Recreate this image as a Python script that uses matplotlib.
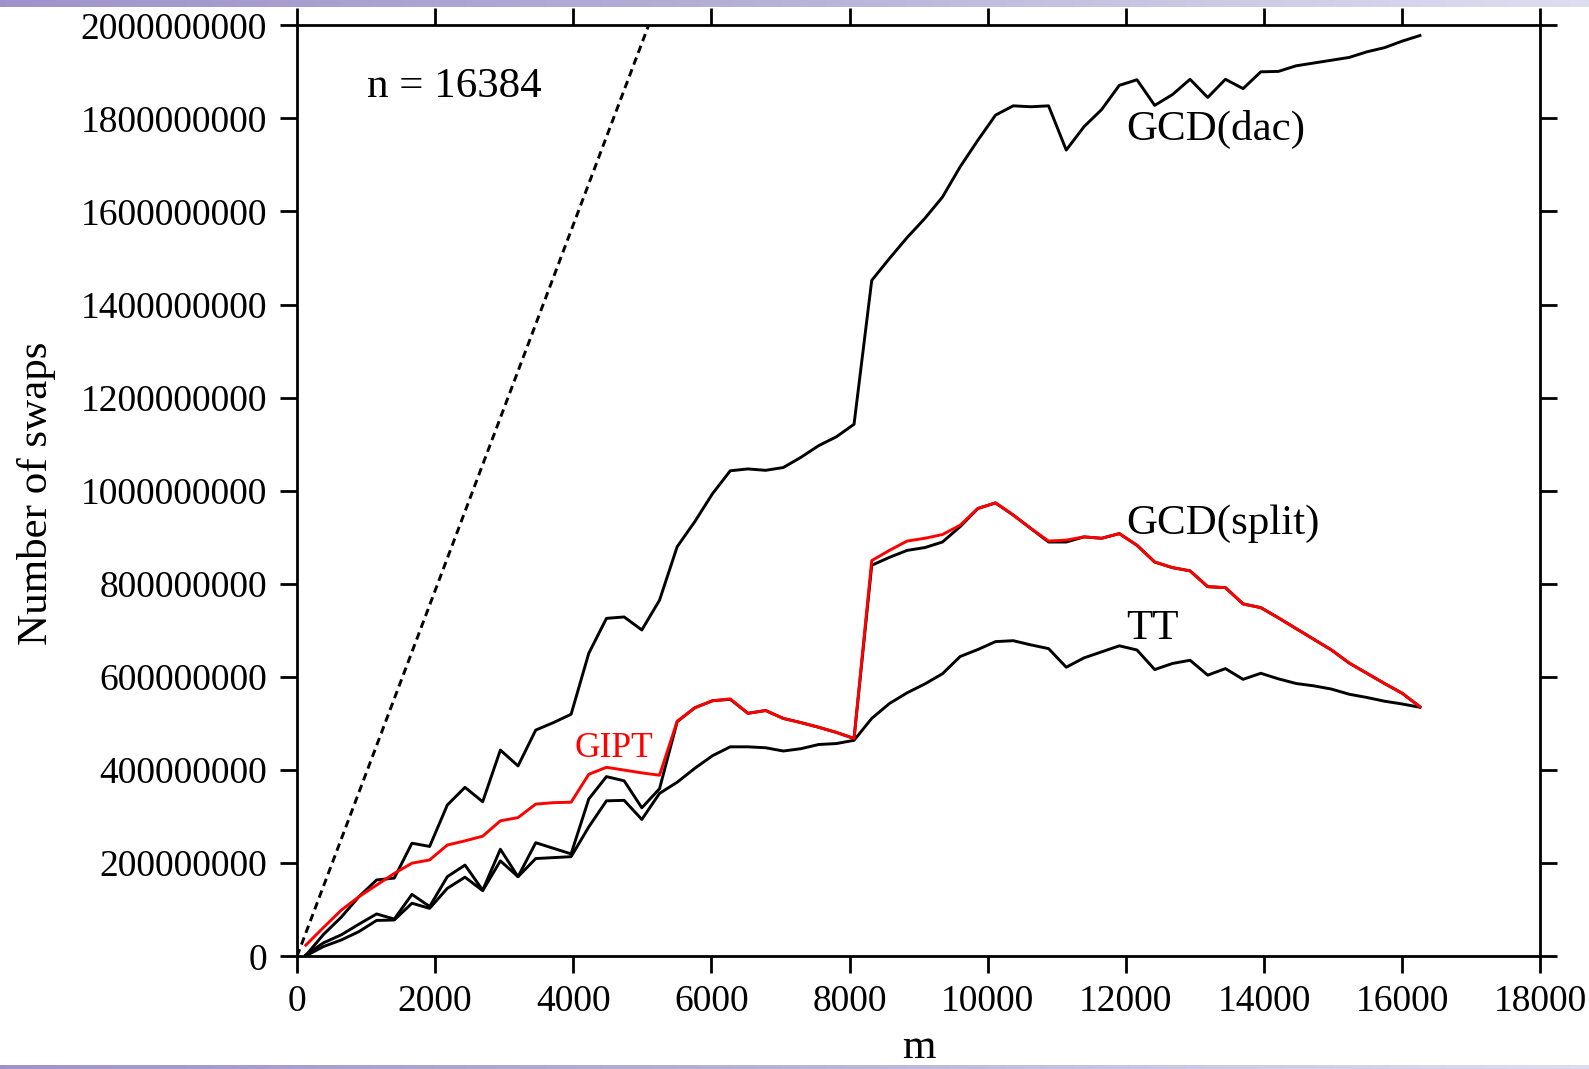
import numpy as np
import matplotlib
matplotlib.use("Agg")
import matplotlib.pyplot as plt
from matplotlib.colors import LinearSegmentedColormap

plt.rcParams['font.family'] = ['Liberation Serif', 'DejaVu Serif']

# ---------------- data ----------------
# problem sizes m (n = 16384)
m_values = [128 + 256 * k for k in range(64)]

# number of swaps, in millions
gcd_dac = [2, 47, 84, 128, 164, 168, 243, 236, 325, 363, 332, 443, 409, 486, 502, 520,
           651, 726, 729, 701, 765, 880, 934, 994, 1043, 1047, 1044, 1050, 1072, 1097, 1116, 1143,
           1452, 1499, 1544, 1585, 1631, 1696, 1753, 1807, 1827, 1825, 1827, 1732, 1782, 1819, 1871, 1883,
           1828, 1851, 1884, 1845, 1884, 1864, 1900, 1901, 1913, 1919, 1925, 1931, 1943, 1952, 1966, 1978]

gcd_split = [3, 29, 46, 69, 91, 80, 133, 107, 171, 196, 142, 230, 171, 244, 232, 220,
             338, 386, 377, 319, 360, 504, 534, 549, 552, 522, 528, 511, 502, 492, 481, 468,
             840, 857, 872, 878, 890, 923, 962, 974, 948, 919, 890, 890, 901, 898, 908, 883,
             847, 835, 828, 794, 792, 757, 749, 727, 704, 681, 658, 630, 608, 586, 565, 536]

tt = [1, 21, 35, 53, 77, 78, 114, 103, 146, 170, 141, 205, 171, 210, 212, 214,
      278, 334, 335, 294, 350, 374, 404, 431, 450, 450, 448, 441, 446, 455, 457, 464,
      511, 543, 566, 585, 607, 644, 659, 676, 678, 669, 661, 621, 641, 654, 667, 658,
      616, 629, 636, 604, 618, 595, 608, 596, 586, 581, 574, 563, 556, 548, 542, 535]

gipt = [24, 62, 99, 128, 153, 178, 200, 207, 239, 248, 258, 291, 298, 327, 330, 331,
        391, 406, 400, 394, 389, 505, 534, 549, 553, 522, 528, 511, 502, 492, 481, 468,
        850, 872, 892, 898, 906, 926, 962, 974, 948, 919, 892, 894, 901, 898, 908, 883,
        847, 835, 828, 794, 792, 757, 749, 727, 704, 681, 658, 630, 608, 586, 565, 536]

# reference (dashed) line end points
dashed_m = [0, 5090]
dashed_swaps = [0, 2000]

xticks = [0, 2000, 4000, 6000, 8000, 10000, 12000, 14000, 16000, 18000]
yticks = [0, 200, 400, 600, 800, 1000, 1200, 1400, 1600, 1800, 2000]
ytick_labels = ['0', '200000000', '400000000', '600000000', '800000000', '1000000000',
                '1200000000', '1400000000', '1600000000', '1800000000', '2000000000']

SCALE = 1e6

# ---------------- figure ----------------
W, H = 1589, 1069
fig = plt.figure(figsize=(W / 100, H / 100), dpi=100)
fig.patch.set_facecolor('white')

# decorative slide bands (top & bottom)
cmap = LinearSegmentedColormap.from_list('band', [(0.62, 0.58, 0.79), (0.72, 0.70, 0.85), (0.87, 0.87, 0.94)])
grad = np.linspace(0, 1, 256).reshape(1, -1)
for y0, h in [(1 - 7 / H, 7 / H), (0, 4 / H)]:
    bax = fig.add_axes([0, y0, 1, h])
    bax.imshow(grad, aspect='auto', cmap=cmap, extent=[0, 1, 0, 1])
    bax.set_axis_off()

left, right = 297 / W, 1540.4 / W
top, bottom = 1 - 25.3 / H, 1 - 956.3 / H
ax = fig.add_axes([left, bottom, right - left, top - bottom])

lw = 2.1
m = np.array(m_values)
ax.plot(dashed_m, np.array(dashed_swaps) * SCALE, color='black', lw=lw, linestyle=(0, (2.6, 1.7)))
ax.plot(m, np.array(gcd_dac) * SCALE, color='black', lw=lw)
ax.plot(m, np.array(tt) * SCALE, color='black', lw=lw)
ax.plot(m, np.array(gcd_split) * SCALE, color='black', lw=lw)
ax.plot(m, np.array(gipt) * SCALE, color='#ff0000', lw=lw)

ax.set_xlim(0, 18000)
ax.set_ylim(0, 2000 * SCALE)
ax.set_xticks(xticks)
ax.set_xticklabels([str(v) for v in xticks])
ax.set_yticks(np.array(yticks) * SCALE)
ax.set_yticklabels(ytick_labels)

for s in ax.spines.values():
    s.set_linewidth(2.0)
ax.tick_params(direction='out', top=True, right=True, length=12.5, width=2.0,
               labelsize=27, colors='black')
ax.tick_params(axis='y', pad=9)
ax.tick_params(axis='x', pad=8)

# labels
fig.text(37 / W, 1 - 493.5 / H, 'Number of swaps', rotation=90, ha='center', va='center', fontsize=31)
fig.text(918.7 / W, 1 - 1058 / H, 'm', ha='center', va='baseline', fontsize=31)

# annotations
ax.text(1010, 1847 * SCALE, 'n = 16384', fontsize=31, ha='left', va='baseline')
ax.text(12000, 1753 * SCALE, 'GCD(dac)', fontsize=31, ha='left', va='baseline')
ax.text(12000, 908 * SCALE, 'GCD(split)', fontsize=31, ha='left', va='baseline')
ax.text(12000, 681 * SCALE, 'TT', fontsize=31, ha='left', va='baseline')
ax.text(4010, 429 * SCALE, 'GIPT', fontsize=25.5, ha='left', va='baseline', color='#ff0000')

fig.savefig('out.png', dpi=100)
